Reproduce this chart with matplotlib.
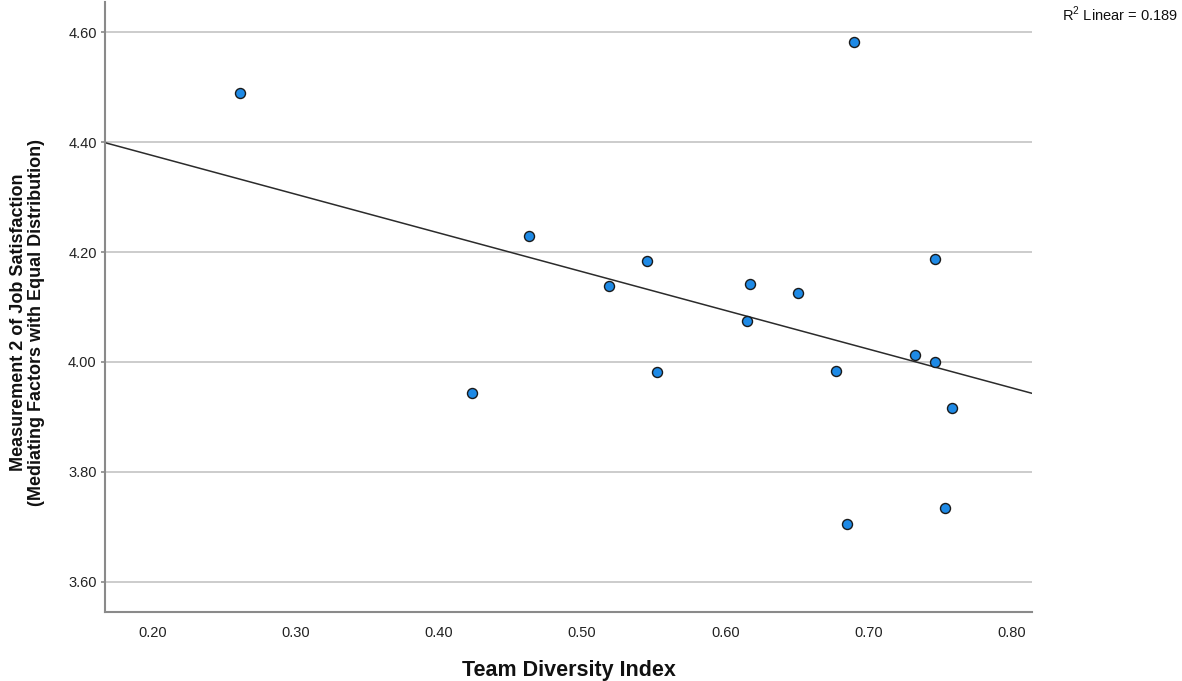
import numpy as np
import matplotlib
matplotlib.use("Agg")
import matplotlib.pyplot as plt
from matplotlib import font_manager

# ---- data ----
diversity = [0.261, 0.690, 0.463, 0.423, 0.519, 0.545, 0.552, 0.617, 0.615,
             0.651, 0.677, 0.746, 0.732, 0.746, 0.758, 0.753, 0.685]
satisfaction = [4.489, 4.582, 4.229, 3.944, 4.138, 4.184, 3.982, 4.142, 4.075,
                4.125, 3.984, 4.187, 4.013, 4.000, 3.916, 3.735, 3.705]
x_ticks = [0.20, 0.30, 0.40, 0.50, 0.60, 0.70, 0.80]
y_ticks = [3.60, 3.80, 4.00, 4.20, 4.40, 4.60]
r2_label = "0.189"
x_title = "Team Diversity Index"
y_title = "Measurement 2 of Job Satisfaction\n(Mediating Factors with Equal Distribution)"

names = {f.name for f in font_manager.fontManager.ttflist}
base = "Liberation Sans" if "Liberation Sans" in names else "DejaVu Sans"

plt.rcParams["font.family"] = [base, "DejaVu Sans"]
plt.rcParams["mathtext.fontset"] = "custom"
plt.rcParams["mathtext.rm"] = base

fig = plt.figure(figsize=(11.82, 6.81), dpi=100)
ax = fig.add_axes([105 / 1182, 69 / 681, 927 / 1182, 610 / 681])

xlim = (0.167, 0.814)
ylim = (3.545, 4.655)
ax.set_xlim(*xlim)
ax.set_ylim(*ylim)

# grid
for yv in y_ticks:
    ax.axhline(yv, color="#c4c4c4", lw=1.2, zorder=1)

# regression line
slope, intercept = np.polyfit(diversity, satisfaction, 1)
xx = np.array(xlim)
ax.plot(xx, intercept + slope * xx, color="#2b2b2b", lw=1.1, zorder=2, clip_on=True)

ax.scatter(diversity, satisfaction, s=52, facecolor="#1e8ae6", edgecolor="#1a1a1a",
           linewidth=1.0, zorder=3)

for side in ("top", "right"):
    ax.spines[side].set_visible(False)
for side in ("left", "bottom"):
    ax.spines[side].set_color("#8a8a8a")
    ax.spines[side].set_linewidth(1.5)

ax.set_xticks(x_ticks)
ax.set_xticklabels([f"{v:.2f}" for v in x_ticks])
ax.set_yticks(y_ticks)
ax.set_yticklabels([f"{v:.2f}" for v in y_ticks])
ax.tick_params(axis="x", length=0, pad=10, labelsize=10.5, labelcolor="#222222")
ax.tick_params(axis="y", length=3, width=1.2, color="#8a8a8a", pad=3,
               labelsize=10.5, labelcolor="#222222")

ax.set_xlabel(x_title, fontsize=15.5, fontweight="bold", color="#111111")
ax.xaxis.set_label_coords(0.5, -0.079)
ax.xaxis.label.set_va("top")

ax.set_ylabel(y_title, fontsize=13, fontweight="bold", color="#111111",
              linespacing=1.05)
ax.yaxis.set_label_coords(-0.0647, 0.475)

fig.text(1062 / 1182, 1 - 21 / 681, r"R$^{\mathregular{2}}$ Linear = " + r2_label,
         fontsize=10.5, ha="left", va="baseline", color="#111111")

fig.savefig("out.png", dpi=100, facecolor="white")
